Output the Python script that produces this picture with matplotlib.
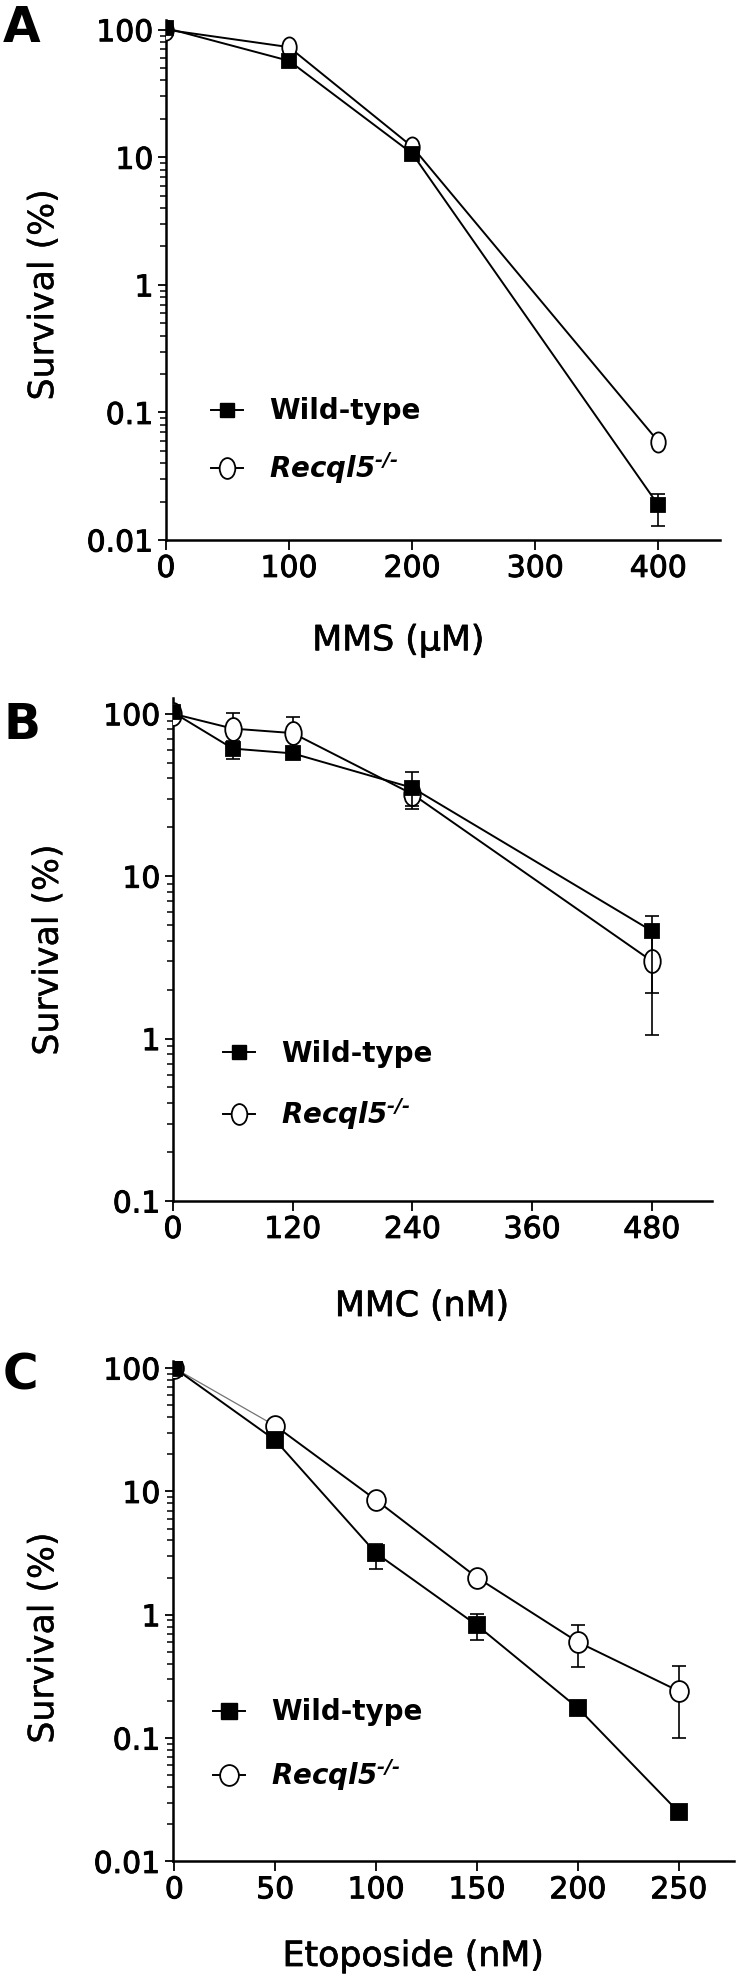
import numpy as np
import matplotlib
matplotlib.use("Agg")
import matplotlib.pyplot as plt
import matplotlib.patheffects as pe
from matplotlib.lines import Line2D
from matplotlib.path import Path
from matplotlib.transforms import Affine2D
from matplotlib.ticker import LogLocator, NullFormatter, FixedLocator

plt.rcParams['font.family'] = ['DejaVu Sans']
plt.rcParams['mathtext.fontset'] = 'dejavusans'

# ---- data (survival %) ----
mms_dose = [0, 100, 200, 400]
wt_mms = [103, 57, 10.7, 0.0187]
wt_mms_lo = [0, 0, 0, 0.0058]
wt_mms_hi = [0, 0, 0, 0.0041]
rec_mms = [100, 73, 12.1, 0.059]
rec_mms_lo = [0, 0, 0, 0]
rec_mms_hi = [0, 0, 0, 0]

mmc_dose = [0, 60, 120, 240, 480]
wt_mmc = [102, 61, 57, 35, 4.6]
wt_mmc_lo = [0, 8, 3, 9, 2.7]
wt_mmc_hi = [0, 7, 3, 9, 1.1]
rec_mmc = [100, 81, 76, 32, 3.0]
rec_mmc_lo = [0, 20, 20, 5, 1.95]
rec_mmc_hi = [0, 20, 20, 5, 1.95]

eto_dose = [0, 50, 100, 150, 200, 250]
wt_eto = [100, 26, 3.15, 0.82, 0.175, 0.025]
wt_eto_lo = [0, 0, 0.78, 0.2, 0, 0]
wt_eto_hi = [0, 0, 0.62, 0.19, 0, 0]
rec_eto = [100, 34, 8.5, 2.0, 0.6, 0.24]
rec_eto_lo = [0, 0, 0, 0, 0.22, 0.14]
rec_eto_hi = [0, 0, 0, 0, 0.22, 0.145]

ytick_vals = [0.01, 0.1, 1, 10, 100]
ytick_txt = ['0.01', '0.1', '1', '10', '100']

tick_fx = [pe.withStroke(linewidth=0.7, foreground='black')]
xlab_fx = [pe.withStroke(linewidth=0.5, foreground='black')]
ylab_fx = [pe.withStroke(linewidth=0.25, foreground='black')]


def ellipse(aspect):
    return Path.unit_circle().transformed(Affine2D().scale(aspect, 1.0))


def draw_series(ax, x, y, lo, hi, marker, ms, face, z, first_seg_grey=False):
    x = np.asarray(x, float)
    y = np.asarray(y, float)
    lo = np.asarray(lo, float)
    hi = np.asarray(hi, float)
    m = (lo > 0) | (hi > 0)
    if m.any():
        ax.errorbar(x[m], y[m], yerr=[lo[m], hi[m]], fmt='none', ecolor='black',
                    elinewidth=1.2, capsize=5, capthick=1.2, zorder=z - 0.5)
    if first_seg_grey:
        ax.plot(x[:2], y[:2], color='0.45', lw=0.9, zorder=z - 0.2)
        ax.plot(x[1:], y[1:], color='black', lw=1.4, zorder=z - 0.2)
    else:
        ax.plot(x, y, color='black', lw=1.4, zorder=z - 0.2)
    ax.plot(x, y, ls='none', marker=marker, ms=ms, mfc=face, mec='black',
            mew=1.3, zorder=z)


def style_axes(ax, xticks, xlim, ylim):
    ax.set_yscale('log')
    ax.set_xlim(*xlim)
    ax.set_ylim(*ylim)
    for s in ['top', 'right']:
        ax.spines[s].set_visible(False)
    for s in ['left', 'bottom']:
        ax.spines[s].set_linewidth(1.8)
    ax.set_xticks(xticks)
    ax.set_xticklabels([str(v) for v in xticks])
    ax.yaxis.set_major_locator(FixedLocator(ytick_vals))
    ax.set_yticklabels(ytick_txt)
    ax.yaxis.set_minor_locator(LogLocator(base=10, subs=np.arange(2, 10)))
    ax.yaxis.set_minor_formatter(NullFormatter())
    ax.tick_params(axis='x', which='major', direction='out', length=7, width=1.3,
                   labelsize=21.5, pad=3)
    ax.tick_params(axis='y', which='major', direction='out', length=6, width=1.3,
                   labelsize=21.5, pad=3)
    ax.tick_params(axis='y', which='minor', direction='out', length=4.5, width=1.1)
    ax.tick_params(axis='x', which='minor', bottom=False)
    for t in ax.get_xticklabels() + ax.get_yticklabels():
        t.set_path_effects(tick_fx)


def add_legend(ax, sq_ms, circ_marker, circ_ms, anchor, spacing):
    h1 = Line2D([], [], color='black', lw=1.4, marker='s', ms=sq_ms,
                mfc='black', mec='black')
    h2 = Line2D([], [], color='black', lw=1.4, marker=circ_marker, ms=circ_ms,
                mfc='white', mec='black', mew=1.3)
    ax.legend([h1, h2], ['Wild-type', r'$\mathbfit{Recql5}^{\mathbfit{‐/‐}}$'],
              loc='center left', bbox_to_anchor=anchor, frameon=False,
              borderaxespad=0, borderpad=0, handlelength=1.15, handletextpad=0.95,
              labelspacing=spacing, prop={'weight': 'bold', 'size': 20})


fig = plt.figure(figsize=(7.5, 19.75), dpi=100)
W, H = 750.0, 1975.0


def add_ax(l, r, t, b):
    return fig.add_axes([l / W, 1 - b / H, (r - l) / W, (b - t) / H])


def labels(ax, xl, xpos, ypos):
    ax.set_xlabel(xl, fontsize=25, path_effects=xlab_fx)
    ax.xaxis.set_label_coords(*xpos)
    ax.set_ylabel('Survival (%)', fontsize=25, path_effects=ylab_fx)
    ax.yaxis.set_label_coords(*ypos)


# ---- panel A ----
axA = add_ax(166, 720, 19.6, 540)
draw_series(axA, mms_dose, rec_mms, rec_mms_lo, rec_mms_hi, ellipse(0.72), 14.5, 'white', 3)
draw_series(axA, mms_dose, wt_mms, wt_mms_lo, wt_mms_hi, 's', 10.5, 'black', 4)
style_axes(axA, [0, 100, 200, 300, 400], (0, 450), (0.01, 120))
labels(axA, 'MMS (µM)', (0.419, -0.16), (-0.191, 0.471))
add_legend(axA, 10, ellipse(0.75), 15, (0.081, 0.189), 0.88)

# ---- panel B ----
axB = add_ax(173, 711.7, 698, 1201)
draw_series(axB, mmc_dose, rec_mmc, rec_mmc_lo, rec_mmc_hi, ellipse(0.72), 16.5, 'white', 3)
draw_series(axB, mmc_dose, wt_mmc, wt_mmc_lo, wt_mmc_hi, 's', 10, 'black', 4)
style_axes(axB, [0, 120, 240, 360, 480], (0, 540), (0.1, 125))
labels(axB, 'MMC (nM)', (0.462, -0.175), (-0.201, 0.499))
add_legend(axB, 10, ellipse(0.75), 15, (0.093, 0.229), 1.0)

# ---- panel C ----
axC = add_ax(173, 734, 1360.6, 1861.4)
draw_series(axC, eto_dose, rec_eto, rec_eto_lo, rec_eto_hi, ellipse(0.9), 15, 'white', 3,
            first_seg_grey=True)
draw_series(axC, eto_dose, wt_eto, wt_eto_lo, wt_eto_hi, 's', 11.5, 'black', 4)
style_axes(axC, [0, 50, 100, 150, 200, 250], (-0.7, 277.3), (0.01, 115))
labels(axC, 'Etoposide (nM)', (0.428, -0.155), (-0.201, 0.446))
add_legend(axC, 11, ellipse(0.9), 15, (0.071, 0.231), 1.1)

# ---- panel letters ----
for letter, top in [('A', 4), ('B', 701), ('C', 1351)]:
    fig.text(3 / W, 1 - top / H, letter, fontsize=35, fontweight='bold',
             ha='left', va='top')

fig.savefig('out.png', dpi=100)
